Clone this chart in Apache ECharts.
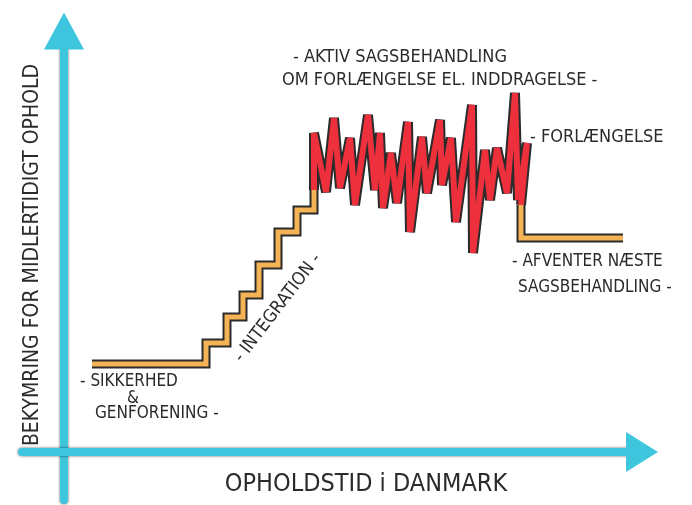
<!DOCTYPE html>
<html>
<head>
<meta charset="utf-8">
<style>
  html, body { margin: 0; padding: 0; background: #fff; }
  #chart { width: 692px; height: 505px; }
</style>
<script src="https://cdn.jsdelivr.net/npm/echarts@6/dist/echarts.min.js"></script>
</head>
<body>
<div id="chart"></div>
<script>
// trappen op (sikkerhed -> integration)
const stepsX = [28, 142, 142, 163, 163, 179, 179, 195, 195, 214, 214, 233, 233, 250, 250]
const stepsY = [88, 88, 109, 109, 135, 135, 157, 157, 187, 187, 220, 220, 242, 242, 262]

// aktiv sagsbehandling (zigzag)
const zigX = [250, 250, 262, 270, 276, 286, 291, 304, 311, 316, 319, 327, 333, 344, 346, 358, 363, 376, 378, 387, 392, 408, 409, 421, 426, 433, 443, 451, 454, 463, 457]
const zigY = [262, 319, 260, 334, 264, 314, 247, 337, 262, 319, 244, 299, 249, 330, 220, 315, 259, 332, 267, 314, 230, 347, 199, 302, 252, 304, 259, 359, 252, 309, 247]

// afventer naeste sagsbehandling
const tailX = [457, 457, 559]
const tailY = [247, 214, 214]

const font = "'Liberation Sans Narrow', 'DejaVu Sans Condensed', sans-serif"
const ink = '#2b2b2b'

function pts(xs, ys) {
  return xs.map((x, i) => [x, ys[i]])
}

function stroke(data, color, width, join) {
  return {
    type: 'line',
    data: data,
    symbol: 'none',
    silent: true,
    lineStyle: { color: color, width: width, join: join || 'miter' }
  }
}

function label(text, x, y, size, align, rotation) {
  return {
    type: 'text',
    x: x,
    y: y,
    rotation: rotation || 0,
    style: {
      text: text,
      fill: ink,
      font: size + 'px ' + font,
      textAlign: align || 'left',
      textVerticalAlign: 'middle'
    }
  }
}

const axisLine = {
  show: true,
  onZero: true,
  symbol: ['none', 'triangle'],
  lineStyle: { color: '#3fc6df', width: 8, shadowColor: 'rgba(0,0,0,0.6)', shadowBlur: 3 }
}

const chart = echarts.init(document.getElementById('chart'))
chart.setOption({
  animation: false,
  grid: { left: 22, right: 50, top: 31, bottom: 5 },
  xAxis: {
    type: 'value', min: -42, max: 578,
    axisLine: Object.assign({}, axisLine, { symbolSize: [40, 32] }),
    axisTick: { show: false }, axisLabel: { show: false }, splitLine: { show: false }
  },
  yAxis: {
    type: 'value', min: -48, max: 421,
    axisLine: Object.assign({}, axisLine, { symbolSize: [40, 37] }),
    axisTick: { show: false }, axisLabel: { show: false }, splitLine: { show: false }
  },
  series: [
    stroke(pts(stepsX, stepsY), ink, 9),
    stroke(pts(stepsX, stepsY), '#f4b356', 5),
    stroke(pts(zigX, zigY), ink, 10, 'bevel'),
    stroke(pts(zigX, zigY), '#ee2f3c', 6, 'bevel'),
    stroke(pts(tailX, tailY), ink, 9),
    stroke(pts(tailX, tailY), '#f4b356', 5)
  ],
  graphic: [
    label('BEKYMRING FOR MIDLERTIDIGT OPHOLD', 33, 255, 21, 'center', Math.PI / 2),
    label('OPHOLDSTID i DANMARK', 366, 484, 25, 'center'),
    label('- AKTIV SAGSBEHANDLING', 293, 57, 18),
    label('OM FORLÆNGELSE EL. INDDRAGELSE -', 282, 80, 18),
    label('- FORLÆNGELSE', 530, 137, 18),
    label('- AFVENTER NÆSTE', 512, 262, 17),
    label('SAGSBEHANDLING -', 518, 288, 17),
    label('- SIKKERHED', 80, 382, 17),
    label('&', 133, 399, 17, 'center'),
    label('GENFORENING -', 95, 414, 17),
    label('- INTEGRATION -', 278, 308, 18, 'center', 0.916)
  ]
})
</script>
</body>
</html>
